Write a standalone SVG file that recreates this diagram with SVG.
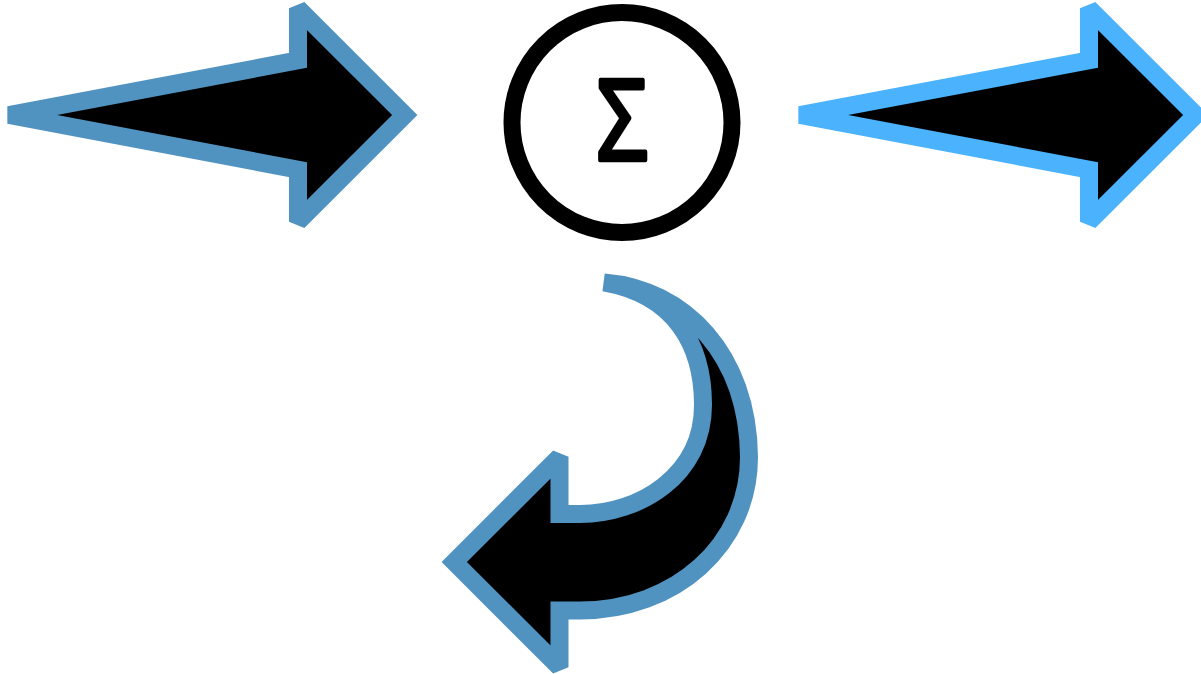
<svg xmlns="http://www.w3.org/2000/svg" width="1201" height="674" viewBox="0 0 1201 674">
  <style>
    .arrow { fill: #000000; stroke-width: 18; stroke-linejoin: miter; stroke-miterlimit: 2; }
    .blue1 { stroke: #5193c0; }
    .blue2 { stroke: #4bb2fe; }
    .sum { fill: #ffffff; stroke: #000000; stroke-width: 17; }
    .sigma { font-family: "Open Sans", "Noto Sans", sans-serif; font-size: 112px; fill: #000000; stroke: #000000; stroke-width: 4.5; stroke-linejoin: round; stroke-linecap: round; }
  </style>
  <defs>
    <path id="straightArrow" d="M 9 115 L 298 60.4 L 298 8.3 L 404.7 115 L 298 221.7 L 298 169.6 Z"/>
  </defs>
  <rect width="1201" height="674" fill="#ffffff"/>
  <g id="connectors">
    <g id="arrow-left">
      <use href="#straightArrow" class="arrow blue1"/>
    </g>
    <g id="arrow-right">
      <use href="#straightArrow" class="arrow blue2" transform="translate(791,0)"/>
    </g>
    <g id="arrow-curved">
      <path class="arrow blue1" d="M 604 282.5 C 685 289, 748 355, 749 457 C 749 545, 675 610.5, 580 610.5 L 559.5 610.5 L 559.5 667.2 L 454.3 562 L 559.5 456.8 L 559.5 514 L 580 514 C 640 514, 703 475, 703 405 C 703 345, 675 295, 604 282.5 Z"/>
    </g>
  </g>
  <g id="sum-node">
    <circle class="sum" cx="622" cy="122.5" r="110"/>
    <text class="sigma" transform="translate(622,160) scale(0.8,1)" x="0" y="0" text-anchor="middle">Σ</text>
  </g>
</svg>
